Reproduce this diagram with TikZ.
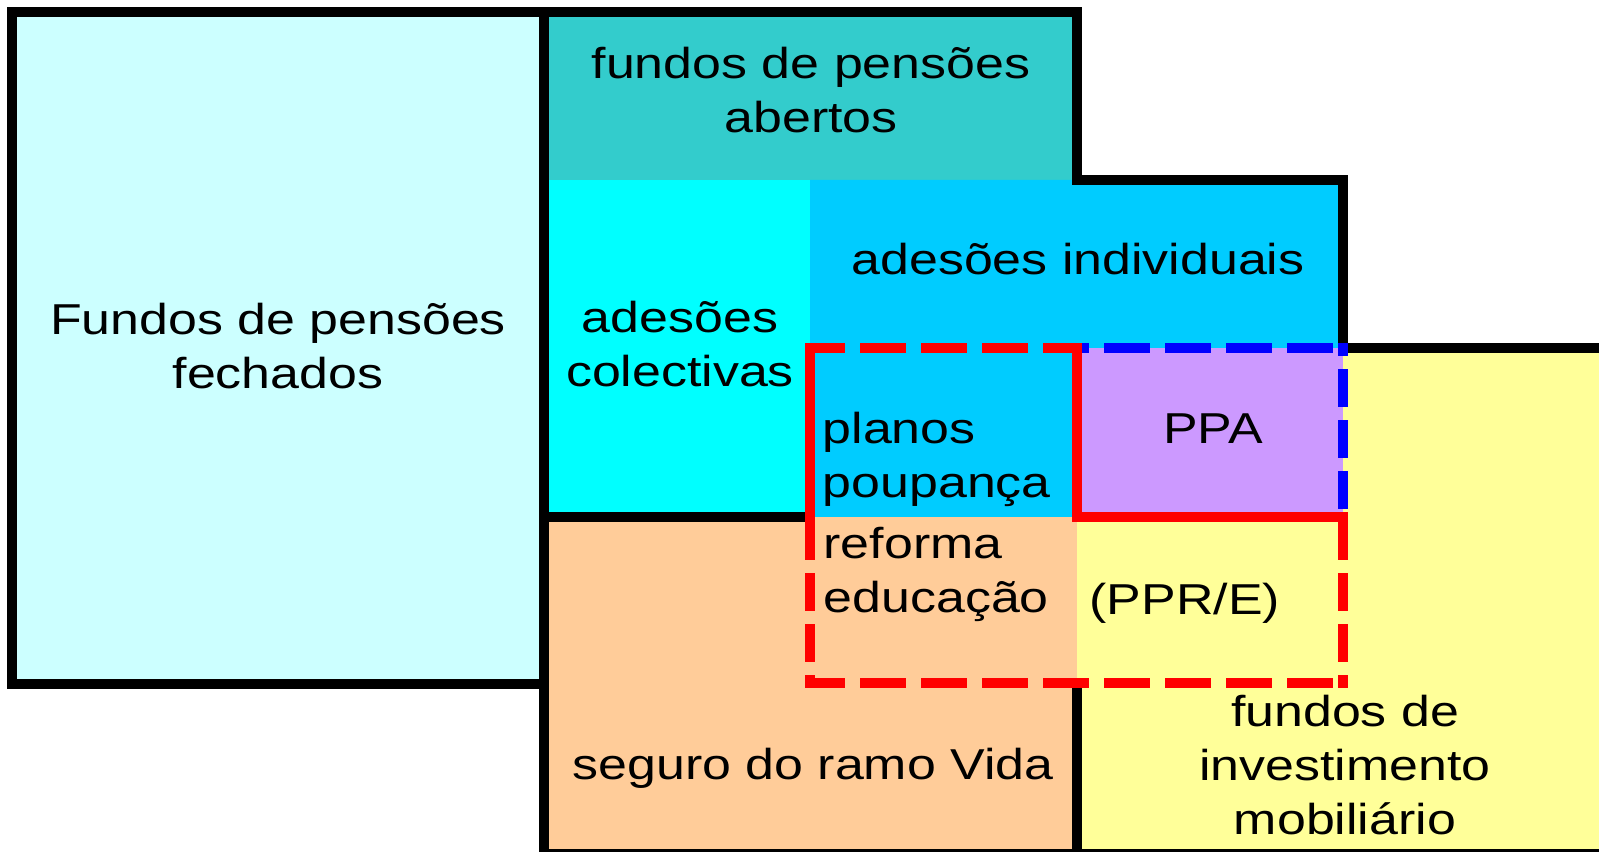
\documentclass[tikz,border=0pt]{standalone}
\usepackage{fontspec}
\setmainfont{Liberation Sans}[FakeStretch=1.2]
\definecolor{closedfund}{HTML}{CCFFFF}
\definecolor{openfund}{HTML}{33CCCC}
\definecolor{collective}{HTML}{00FFFF}
\definecolor{individual}{HTML}{00CCFF}
\definecolor{ppafill}{HTML}{CC99FF}
\definecolor{lifefill}{HTML}{FFCC99}
\definecolor{investfill}{HTML}{FFFF99}
\begin{document}
\begin{tikzpicture}[x=0.01cm,y=-0.01cm]
\tikzstyle{every node}=[inner sep=0pt, font=\fontsize{12.3pt}{15.4pt}\selectfont]
\tikzstyle{frame}=[line width=0.1cm, line join=miter]
\tikzstyle{hdash}=[line width=0.1cm, line cap=rect, dash pattern=on 0.36cm off 0.25cm]
\tikzstyle{vdash}=[line width=0.1cm, line cap=rect, dash pattern=on 0.28cm off 0.23cm]
\useasboundingbox (0,0) rectangle (1599,852);
% areas
\fill[closedfund] (12,12) rectangle (544,684);
\fill[openfund] (544,12) rectangle (1077,180);
\fill[collective] (544,180) rectangle (810,517);
\fill[individual] (810,180) -- (1343,180) -- (1343,348) -- (1077,348) -- (1077,517) -- (810,517) -- cycle;
\fill[ppafill] (1077,348) rectangle (1343,517);
\fill[lifefill] (544,517) rectangle (1077,860);
\fill[investfill] (1077,517) -- (1343,517) -- (1343,348) -- (1620,348) -- (1620,860) -- (1077,860) -- cycle;
% black frame
\draw[frame] (12,12) rectangle (544,684);
\draw[frame] (544,854) -- (544,12) -- (1077,12) -- (1077,180) -- (1343,180) -- (1343,348) -- (1620,348);
\draw[frame] (544,517) -- (810,517);
\draw[frame] (1077,683) -- (1077,854);
\draw[frame] (544,854) -- (1620,854);
% dashed borders
\draw[hdash, red, dash phase=0.06cm] (810,348) -- (1077,348);
\draw[hdash, blue, dash phase=0.29cm] (1077,348) -- (1343,348);
\draw[hdash, red, dash phase=0.06cm] (810,683) -- (1343,683);
\draw[vdash, blue, dash phase=0.25cm] (1343,348) -- (1343,517);
\draw[vdash, red, dash phase=0.41cm] (1343,517) -- (1343,683);
\draw[vdash, red, dash phase=0.41cm] (810,517) -- (810,683);
% solid red
\draw[frame, red, line cap=rect] (810,348) -- (810,517);
\draw[frame, red, line cap=rect] (1077,348) -- (1077,517) -- (1343,517);
% texts (base = last line)
\node[anchor=base, align=center] (closed) at (278,389) {Fundos de pensões\\fechados};
\node[anchor=base, align=center] (open) at (811,133) {fundos de pensões\\abertos};
\node[anchor=base, align=center] (collect) at (680,387) {adesões\\colectivas};
\node[anchor=base] (indiv) at (1078,275) {adesões individuais};
\node[anchor=base west, align=left] (savings) at (822,498) {planos\\poupança};
\node[anchor=base west, align=left] (retire) at (823,613) {reforma\\educação};
\node[anchor=base] (ppa) at (1213,444) {PPA};
\node[anchor=base west] (ppre) at (1089,615) {(PPR/E)};
\node[anchor=base] (life) at (813,780) {seguro do ramo Vida};
\node[anchor=base, align=center] (invest) at (1345,835) {fundos de\\investimento\\mobiliário};
\end{tikzpicture}
\end{document}
